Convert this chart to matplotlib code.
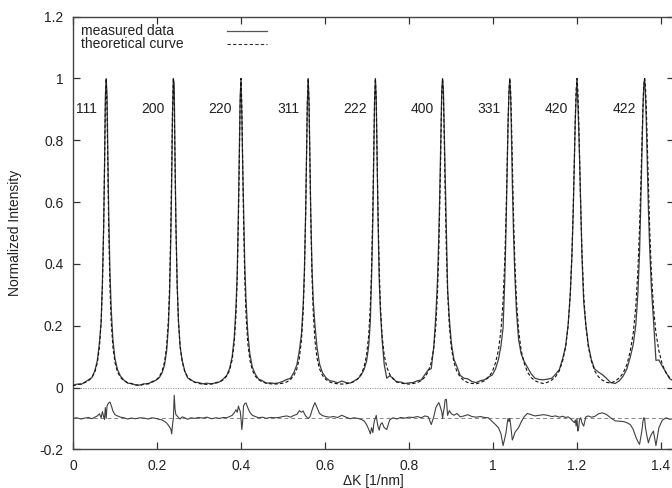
import numpy as np
import matplotlib
matplotlib.use("Agg")
import matplotlib.pyplot as plt

plt.rcParams['font.family'] = ['Liberation Sans', 'DejaVu Sans']

# ---------------- data ----------------
peak_labels = ["111", "200", "220", "311", "222", "400", "331", "420", "422"]
peak_centers = [0.079, 0.239, 0.400, 0.560, 0.720, 0.880, 1.040, 1.200, 1.361]

# one-sided sampling offsets (1/nm) from each peak centre
profile_offsets = [0.000, 0.002, 0.004, 0.006, 0.009, 0.012, 0.016, 0.021,
                   0.027, 0.034, 0.042, 0.051, 0.060, 0.070, 0.080]

# theoretical curve intensity at those offsets (symmetric about each peak)
theory_profiles = [
    [1.000, 0.906, 0.706, 0.516, 0.322, 0.211, 0.131, 0.080, 0.050, 0.033, 0.022, 0.016, 0.012, 0.009, 0.006],
    [1.000, 0.908, 0.713, 0.524, 0.329, 0.216, 0.134, 0.083, 0.052, 0.034, 0.023, 0.017, 0.013, 0.011, 0.010],
    [1.000, 0.916, 0.731, 0.548, 0.350, 0.232, 0.145, 0.090, 0.056, 0.037, 0.025, 0.018, 0.014, 0.012, 0.011],
    [1.000, 0.920, 0.743, 0.562, 0.364, 0.243, 0.153, 0.095, 0.060, 0.039, 0.026, 0.018, 0.014, 0.012, 0.011],
    [1.000, 0.928, 0.764, 0.590, 0.390, 0.265, 0.168, 0.105, 0.066, 0.043, 0.028, 0.019, 0.015, 0.012, 0.011],
    [1.000, 0.941, 0.800, 0.640, 0.441, 0.308, 0.200, 0.127, 0.081, 0.052, 0.034, 0.022, 0.016, 0.013, 0.012],
    [1.000, 0.962, 0.862, 0.735, 0.552, 0.410, 0.281, 0.185, 0.121, 0.080, 0.050, 0.032, 0.022, 0.016, 0.013],
    [1.000, 0.965, 0.873, 0.754, 0.576, 0.434, 0.301, 0.200, 0.131, 0.087, 0.054, 0.035, 0.024, 0.017, 0.014],
    [1.000, 0.975, 0.907, 0.813, 0.659, 0.520, 0.379, 0.262, 0.176, 0.119, 0.075, 0.047, 0.031, 0.021, 0.016],
]

# measured - theoretical (in 1/1000), at offsets -0.070 ... +0.080 of each peak
first_residual = 0
residuals_milli = [
    [2, -2, 1, 3, -1, 4, 8, 15, 2, 22, 5, -3, 35, 0, 40, 46, 50, 53, 42, 24, 12, 8, 4, 2, -2, 1, -1, 2],
    [1, -2, 2, 0, -3, -5, -10, -15, -22, -28, -35, -50, -20, 0, 75, 30, 12, 8, 3, -2, 5, 2, -3, 2, 0, 3, 1, 4],
    [-1, 2, 0, 3, 2, 6, 10, 18, 28, 20, 40, 30, 24, 0, -36, -10, 40, 48, 50, 35, 20, 10, 6, 2, 4, 0, 3, 2],
    [3, 6, 8, 4, 10, 13, 25, 20, 24, 15, 8, 6, 2, 0, 2, 5, 12, 26, 38, 51, 35, 16, 9, 6, 4, 6, 3, 10],
    [4, -1, 2, 0, -3, -8, -20, -35, -50, -30, -46, -20, -5, 0, 10, -10, -25, -38, -20, -14, -30, -36, -5, 2, -2, 3, 1, 4],
    [3, 6, 2, 8, 5, -20, 5, 35, 45, 51, 40, 30, 22, 0, 20, 35, 60, 62, 10, 25, 15, 10, 16, 5, 8, 12, 6, 4],
    [6, 3, 2, -10, -20, -30, -50, -88, -65, -46, -15, 0, -10, 0, -20, -45, -70, -60, -46, -38, -30, -12, 5, 16, 12, 8, 10, 12],
    [10, 6, 8, 4, 7, 3, 5, 0, -6, -10, -14, -5, -25, 0, -41, -30, -5, 2, -15, -25, 5, 8, 4, 6, 15, 18, 13, 2],
    [-8, -9, -10, -14, -20, -36, -60, -75, -84, -60, -36, -10, 2, 0, -30, -45, -60, -79, -65, -52, -41, -88, -30, -6, 2, -3, 0, 2],
]

xtick_values = [0, 0.2, 0.4, 0.6, 0.8, 1.0, 1.2, 1.4]
xtick_labels = ["0", "0.2", "0.4", "0.6", "0.8", "1", "1.2", "1.4"]
ytick_values = [-0.2, 0, 0.2, 0.4, 0.6, 0.8, 1.0, 1.2]
ytick_labels = ["-0.2", "0", "0.2", "0.4", "0.6", "0.8", "1", "1.2"]
residual_offset = -0.1

# ---------------- assemble the curves ----------------
k_all, th_all, res_all = [], [], []
for i, c in enumerate(peak_centers):
    prof = theory_profiles[i]
    offs = [-o for o in profile_offsets[:0:-1]] + profile_offsets
    vals = prof[:0:-1] + prof
    res = [first_residual] + residuals_milli[i]
    start = 0 if i == 0 else 1
    for o, v, r in zip(offs[start:], vals[start:], res[start:]):
        k_all.append(c + o)
        th_all.append(v)
        res_all.append(r / 1000.0)

k_all = np.array(k_all)
th_all = np.array(th_all)
res_all = np.array(res_all)
measured = th_all + res_all

# ---------------- figure ----------------
fig = plt.figure(figsize=(6.72, 4.88), dpi=100)
ax = fig.add_axes([73 / 672, 38.7 / 488, 601 / 672, 432.6 / 488])

ax.axhline(0, color='#888888', lw=0.7, ls=(0, (1, 1.5)), zorder=1)
ax.axhline(residual_offset, color='#888888', lw=0.7, ls=(0, (4, 3)), zorder=1)

ax.plot(k_all, measured, color='#404040', lw=0.9, zorder=3)
ax.plot(k_all, th_all, color='#111111', lw=0.8, ls=(0, (3, 2)), zorder=4)
ax.plot(k_all, residual_offset + res_all, color='#404040', lw=0.8, zorder=3)

for lab, c in zip(peak_labels, peak_centers):
    ax.text(c - 0.021, 0.90, lab, ha='right', va='center', fontsize=10, color='#222222')

# gnuplot-style key
ax.text(0.0133, 0.967, "measured data", transform=ax.transAxes, ha='left', va='center',
        fontsize=10, color='#222222')
ax.text(0.0133, 0.938, "theoretical curve", transform=ax.transAxes, ha='left', va='center',
        fontsize=10, color='#222222')
ax.plot([0.257, 0.322], [0.967, 0.967], transform=ax.transAxes, color='#555555', lw=0.9)
ax.plot([0.257, 0.322], [0.938, 0.938], transform=ax.transAxes, color='#333333', lw=0.8,
        ls=(0, (3, 2)))

ax.set_xlim(0, 1.431)
ax.set_ylim(-0.2, 1.2)
ax.set_xticks(xtick_values)
ax.set_xticklabels(xtick_labels)
ax.set_yticks(ytick_values)
ax.set_yticklabels(ytick_labels)
ax.tick_params(direction='in', top=True, right=True, length=5, width=0.9,
               labelsize=10, pad=7, colors='#333333', labelcolor='#222222')
for s in ax.spines.values():
    s.set_color('#444444')
    s.set_linewidth(1.0)

ax.set_xlabel("\u0394K [1/nm]", fontsize=10, labelpad=1, color='#222222')
ax.set_ylabel("Normalized Intensity", fontsize=10, color='#222222')
ax.yaxis.set_label_coords(-0.085, 0.5)

fig.savefig("out.png", dpi=100)
